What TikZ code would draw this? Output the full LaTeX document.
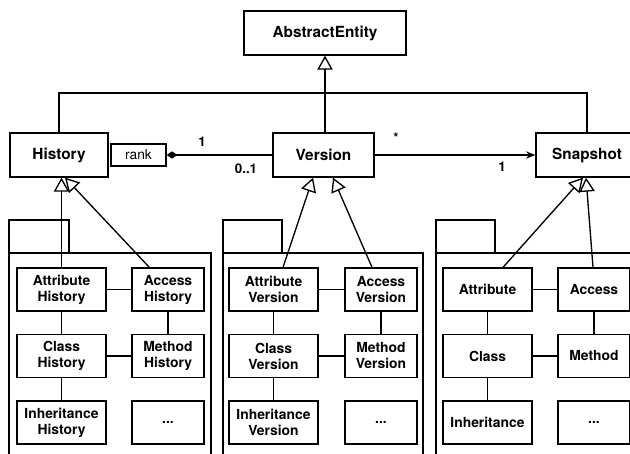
\documentclass[tikz,border=0pt]{standalone}
\usepackage{fontspec}
\setmainfont{TeX Gyre Heros}
\usetikzlibrary{arrows.meta,calc}
\begin{document}
\begin{tikzpicture}[x=0.75pt,y=-0.75pt,
  line width=1pt,
  cls/.style={draw,line width=1pt,inner sep=0pt,minimum height=33pt,font=\fontsize{11.5pt}{13pt}\selectfont\bfseries},
  sub/.style={draw,line width=1pt,inner sep=0pt,minimum height=32.25pt,align=center,font=\fontsize{10.4pt}{12pt}\selectfont\bfseries},
  wide/.style={sub,minimum width=66.75pt},
  narrow/.style={sub,minimum width=54pt},
  pkg/.style={line width=1.1pt},
  gen/.style={-{Triangle[open,length=10.5pt,width=11.5pt]}},
  lbl/.style={font=\fontsize{10pt}{12pt}\selectfont\bfseries,inner sep=0pt},
]
\clip (0,0) rectangle (630,453);
\fill[white] (0,0) rectangle (630,453);

% top classes
\node[cls,minimum width=121.5pt] (abs) at (325,33) {AbstractEntity};
\node[cls,minimum width=73.5pt] (history) at (59,155) {History};
\node[cls,minimum width=75.75pt] (version) at (323.5,155) {Version};
\node[cls,minimum width=76.5pt] (snapshot) at (587,155) {Snapshot};
\node[draw,line width=1pt,inner sep=0pt,minimum width=41.25pt,minimum height=16.5pt,font=\fontsize{10.3pt}{12pt}\selectfont] (rank) at (138.5,155) {rank};

% top connectors
\coordinate (bus) at (325,93);
\draw (history.north) |- (bus) -| (snapshot.north);
\draw[gen] (abs.south |- version.north) -- (abs.south);
\draw[{Diamond[length=8pt,width=5.5pt]}-] (rank.east) -- (version.west);
\draw[-{Stealth[length=7pt,width=5.5pt]}] (version.east) -- (snapshot.west);
\node[lbl] (m1) at (202,142) {1};
\node[lbl] (m2) at (246,169) {0..1};
\node[lbl] (m3) at (396,138) {*};
\node[lbl] (m4) at (502,167) {1};

% packages
\draw[pkg] (9,220) rectangle (69,253);
\draw[pkg] (9,470) -- (9,253) -- (211,253) -- (211,470);
\draw[pkg] (223,220) rectangle (282,253);
\draw[pkg] (223,470) -- (223,253) -- (423,253) -- (423,470);
\draw[pkg] (436,220) rectangle (495,253);
\draw[pkg] (436,470) -- (436,253) -- (640,253) -- (640,470);

% package 1
\node[wide] (aH) at (61.5,289.5) {Attribute\\History};
\node[wide] (cH) at (61.5,356) {Class\\History};
\node[wide] (iH) at (61.5,422.5) {Inheritance\\History};
\node[narrow] (acH) at (168,289.5) {Access\\History};
\node[narrow] (mH) at (168,356) {Method\\History};
\node[narrow] (dH) at (168,422.5) {...};
\draw (aH) -- (acH);
\draw (cH) -- (mH);
\draw (aH) -- (cH);
\draw (cH) -- (iH);
\draw (acH) -- (mH);

% package 2
\node[wide] (aV) at (273.5,289.5) {Attribute\\Version};
\node[wide] (cV) at (273.5,356) {Class\\Version};
\node[wide] (iV) at (273.5,422.5) {Inheritance\\Version};
\node[narrow] (acV) at (381,289.5) {Access\\Version};
\node[narrow] (mV) at (381,356) {Method\\Version};
\node[narrow] (dV) at (381,422.5) {...};
\draw (aV) -- (acV);
\draw (cV) -- (mV);
\draw (aV) -- (cV);
\draw (cV) -- (iV);
\draw (acV) -- (mV);

% package 3
\node[wide] (aS) at (487.5,289.5) {Attribute};
\node[wide] (cS) at (487.5,356) {Class};
\node[wide] (iS) at (487.5,422.5) {Inheritance};
\node[narrow] (acS) at (594,289.5) {Access};
\node[narrow] (mS) at (594,356) {Method};
\node[narrow] (dS) at (594,422.5) {...};
\draw (aS) -- (acS);
\draw (cS) -- (mS);
\draw (aS) -- (cS);
\draw (cS) -- (iS);
\draw (acS) -- (mS);

% generalizations
\draw[gen] (aH.north) -- (aH.north |- history.south);
\draw[gen] ($(acH.north west)+(18,0)$) -- ($(history.south)+(6,0)$);
\draw[gen] ($(aV.north)+(9.5,0)$) -- ($(version.south)+(-10.5,0)$);
\draw[gen] ($(acV.north)+(-9,0)$) -- ($(version.south)+(9.5,0)$);
\draw[gen] ($(aS.north)+(15.5,0)$) -- ($(snapshot.south)+(-4,0)$);
\draw[gen] ($(acS.north)+(-1,0)$) -- ($(snapshot.south)+(-1,0)$);
\end{tikzpicture}
\end{document}
